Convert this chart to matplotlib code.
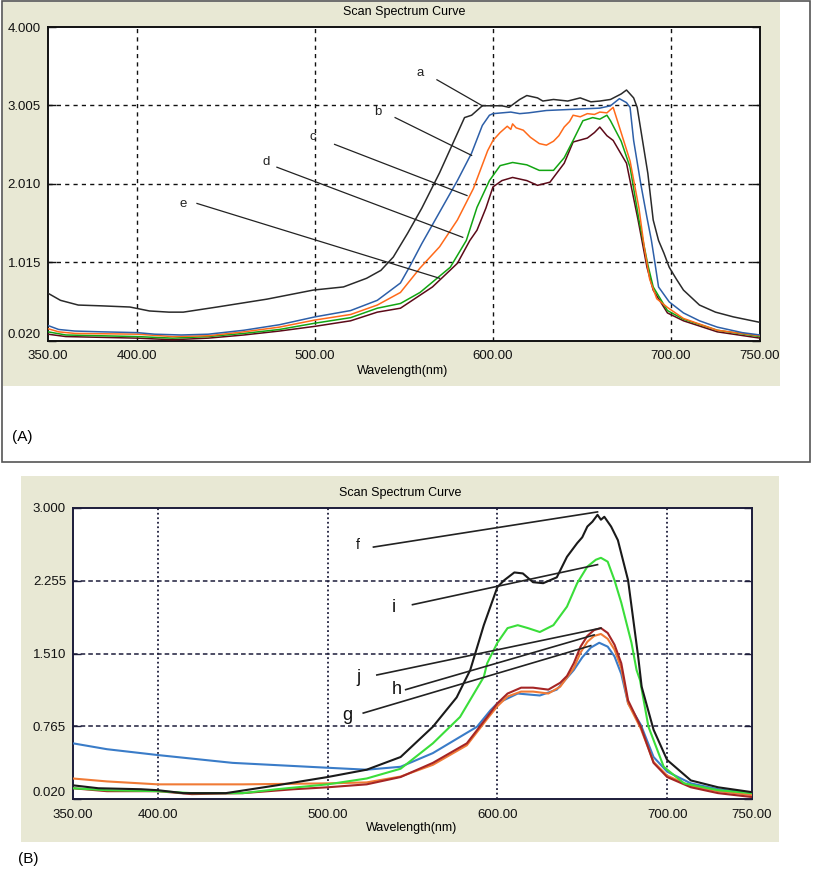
import matplotlib
matplotlib.use("Agg")
import matplotlib.pyplot as plt
from matplotlib.patches import Rectangle

plt.rcParams['font.family'] = ['Liberation Sans', 'DejaVu Sans']

# ---------------- panel A data ----------------
a_x = [350, 357, 367, 380, 396, 407, 418, 426, 445, 473, 499, 516, 529, 537, 544, 552, 560, 570, 578, 584,
       588, 591, 594, 600, 605, 609, 612, 615, 619, 625, 628, 634, 642, 649, 655, 660, 666, 672, 675, 679,
       681, 687, 690, 693, 696, 699, 703, 707, 716, 725, 735, 750]
a_y = [0.62, 0.53, 0.47, 0.46, 0.445, 0.395, 0.38, 0.38, 0.445, 0.545, 0.66, 0.70, 0.81, 0.91, 1.08, 1.38, 1.70, 2.15, 2.55, 2.85,
       2.88, 2.94, 3.00, 3.00, 3.00, 2.98, 3.03, 3.08, 3.13, 3.10, 3.06, 3.08, 3.06, 3.10, 3.05, 3.06, 3.08, 3.15, 3.20, 3.10,
       2.98, 2.14, 1.55, 1.29, 1.13, 0.95, 0.80, 0.66, 0.47, 0.38, 0.32, 0.25]

b_x = [350, 356, 365, 380, 400, 410, 425, 440, 460, 480, 500, 520, 535, 548, 553, 560, 570, 580, 588, 594,
       598, 600, 610, 615, 620, 630, 640, 650, 660, 666, 671, 675, 677, 679, 683, 686.5, 689, 691, 693, 699,
       707, 716, 726, 740, 750]
b_y = [0.21, 0.16, 0.14, 0.13, 0.12, 0.10, 0.09, 0.10, 0.15, 0.22, 0.32, 0.40, 0.53, 0.75, 0.95, 1.25, 1.65, 2.05, 2.40, 2.75,
       2.88, 2.90, 2.92, 2.90, 2.91, 2.94, 2.95, 2.96, 2.97, 3.00, 3.09, 3.04, 2.98, 2.56, 2.01, 1.58, 1.29, 1.00, 0.70, 0.51,
       0.37, 0.27, 0.19, 0.12, 0.09]

c_x = [350, 356, 365, 400, 420, 440, 460, 480, 500, 520, 535, 548, 559, 570, 580, 589, 594, 597, 600, 604,
       608, 610, 611, 613, 617, 621, 626, 630, 634, 637, 640, 643, 645, 649, 653, 657, 660, 664, 667.5, 671,
       677, 682, 685, 688, 692, 698, 707, 726, 750]
c_y = [0.17, 0.13, 0.11, 0.10, 0.07, 0.08, 0.13, 0.19, 0.28, 0.35, 0.47, 0.63, 0.94, 1.21, 1.55, 1.95, 2.25, 2.43, 2.56, 2.66,
       2.74, 2.70, 2.77, 2.72, 2.69, 2.60, 2.52, 2.50, 2.55, 2.62, 2.73, 2.80, 2.88, 2.86, 2.90, 2.89, 2.92, 2.91, 2.98, 2.73,
       2.30, 1.70, 1.20, 0.80, 0.55, 0.44, 0.30, 0.15, 0.08]

d_x = [350, 360, 400, 420, 440, 460, 480, 500, 520, 535, 548, 559, 576, 585, 591, 598, 604, 611, 619, 626,
       634, 640, 645, 650.5, 656, 660, 664, 666, 672, 677, 682, 687, 690, 698, 707, 726, 750]
d_y = [0.13, 0.09, 0.07, 0.05, 0.07, 0.11, 0.16, 0.24, 0.31, 0.43, 0.49, 0.63, 0.95, 1.29, 1.71, 2.05, 2.24, 2.28, 2.25, 2.18,
       2.18, 2.34, 2.56, 2.81, 2.85, 2.83, 2.88, 2.81, 2.55, 2.22, 1.55, 0.98, 0.70, 0.40, 0.29, 0.15, 0.07]

e_x = [350, 360, 400, 420, 440, 460, 480, 500, 520, 535, 548, 566, 580, 587, 591, 596, 600, 605, 611, 619,
       625, 632, 640, 645, 653, 657, 660, 664, 667.5, 675, 681.5, 686.5, 690, 698, 707, 726, 750]
e_y = [0.10, 0.07, 0.05, 0.03, 0.05, 0.09, 0.14, 0.20, 0.27, 0.38, 0.43, 0.70, 1.00, 1.29, 1.42, 1.70, 1.97, 2.05, 2.09, 2.05,
       1.99, 2.03, 2.27, 2.54, 2.59, 2.66, 2.73, 2.62, 2.56, 2.27, 1.55, 0.95, 0.66, 0.37, 0.27, 0.13, 0.05]

# ---------------- panel B data ----------------
f_x = [350, 365, 390, 400, 415, 440, 470, 500, 523, 543, 562, 576, 584, 592, 600, 604, 610, 615, 621, 627,
       635, 641, 647, 650, 653, 656, 659, 661, 663, 665, 667, 671, 677, 683, 685, 692, 700, 714, 730, 750]
f_y = [0.16, 0.13, 0.12, 0.11, 0.08, 0.08, 0.16, 0.245, 0.32, 0.45, 0.76, 1.06, 1.34, 1.80, 2.19, 2.26, 2.34, 2.33, 2.24, 2.23,
       2.29, 2.50, 2.64, 2.70, 2.81, 2.86, 2.93, 2.88, 2.91, 2.86, 2.81, 2.67, 2.26, 1.47, 1.17, 0.73, 0.42, 0.21, 0.14, 0.09]

i_x = [350, 370, 400, 420, 450, 470, 500, 523, 543, 562, 578, 592, 594, 600, 606, 612, 618, 625, 633, 641,
       647, 653, 658, 661, 665, 669, 673, 679, 682, 684, 689, 698, 710, 730, 750]
i_y = [0.13, 0.11, 0.10, 0.08, 0.08, 0.12, 0.17, 0.23, 0.33, 0.59, 0.86, 1.27, 1.41, 1.62, 1.77, 1.80, 1.77, 1.73, 1.80, 1.99,
       2.23, 2.40, 2.47, 2.49, 2.45, 2.26, 2.03, 1.62, 1.34, 1.24, 0.76, 0.35, 0.18, 0.11, 0.08]

j_x = [350, 370, 400, 420, 450, 480, 500, 523, 543, 562, 582, 594, 600, 606, 614, 621, 630, 637, 641, 645,
       649, 653, 657, 661, 665, 669, 673, 677, 684.5, 692, 700, 714, 730, 750]
j_y = [0.13, 0.10, 0.10, 0.07, 0.08, 0.12, 0.14, 0.17, 0.245, 0.39, 0.59, 0.86, 1.00, 1.10, 1.16, 1.16, 1.14, 1.21, 1.28, 1.41,
       1.58, 1.69, 1.75, 1.77, 1.72, 1.60, 1.41, 1.03, 0.76, 0.39, 0.245, 0.14, 0.08, 0.04]

h_x = [350, 370, 400, 450, 500, 523, 543, 562, 582, 594, 600, 606, 614, 621, 630, 637, 645, 649, 653, 657,
       661, 665, 669, 673, 677, 684.5, 692, 700, 714, 730, 750]
h_y = [0.23, 0.20, 0.17, 0.17, 0.18, 0.19, 0.25, 0.37, 0.57, 0.84, 0.97, 1.07, 1.12, 1.12, 1.10, 1.17, 1.36, 1.52, 1.63, 1.69,
       1.71, 1.66, 1.55, 1.36, 1.00, 0.74, 0.40, 0.26, 0.15, 0.10, 0.06]

g_x = [350, 370, 400, 444, 500, 523, 543, 562, 588, 596, 600, 612, 625, 635, 645, 650, 655, 660, 665, 669,
       673, 677, 684.5, 692, 700, 714, 730, 750]
g_y = [0.59, 0.53, 0.47, 0.39, 0.34, 0.32, 0.35, 0.49, 0.76, 0.93, 1.00, 1.10, 1.08, 1.14, 1.34, 1.47, 1.57, 1.62, 1.58, 1.48,
       1.30, 1.00, 0.78, 0.45, 0.30, 0.18, 0.12, 0.08]

xticks = [350, 400, 500, 600, 700, 750]
a_yticks = [0.020, 1.015, 2.010, 3.005, 4.000]
b_yticks = [0.020, 0.765, 1.510, 2.255, 3.000]

# label text position, leader line start, leader line end
a_labels = [("a", (559, 3.41), (568.5, 3.33), (594, 3.00)),
            ("b", (535.4, 2.92), (545, 2.85), (588, 2.37)),
            ("c", (499, 2.60), (511, 2.51), (585.4, 1.86)),
            ("d", (472.5, 2.29), (478.6, 2.22), (583, 1.33)),
            ("e", (426, 1.75), (433.7, 1.76), (570, 0.81))]
b_labels = [("f", (518, 2.62), (527, 2.60), (659, 2.96), 10),
            ("i", (538.8, 1.98), (550, 2.01), (659, 2.42), 13),
            ("j", (518, 1.26), (529, 1.29), (661, 1.77), 13),
            ("h", (541, 1.14), (546, 1.14), (657, 1.70), 13),
            ("g", (511.6, 0.88), (521, 0.90), (655, 1.59), 13)]

W, H = 813.0, 869.0
beige = '#e8e8d4'

fig = plt.figure(figsize=(8.13, 8.69), dpi=100)

# backgrounds / frame (behind the axes)
fig.patches.append(Rectangle((2 / W, 1 - 462 / H), 808 / W, 461 / H, transform=fig.transFigure,
                             facecolor='white', edgecolor='#555555', lw=1.2, zorder=-2))
fig.patches.append(Rectangle((3 / W, 1 - 386 / H), 777 / W, 384 / H, transform=fig.transFigure,
                             facecolor=beige, edgecolor='none', zorder=-1))
fig.patches.append(Rectangle((21 / W, 1 - 842 / H), 758 / W, 366 / H, transform=fig.transFigure,
                             facecolor=beige, edgecolor='none', zorder=-1))


def setup(ax, yticks, spine_col):
    ax.set_facecolor('white')
    ax.set_xlim(350, 750)
    ax.set_ylim(yticks[0], yticks[-1])
    ax.set_xticks(xticks)
    ax.set_xticklabels(["%.2f" % v for v in xticks])
    ax.set_yticks(yticks)
    ax.set_yticklabels(["%.3f" % v for v in yticks])
    ax.tick_params(axis='x', length=0, labelsize=9.5, pad=7, colors='#111111')
    ax.tick_params(axis='y', length=0, labelsize=9.5, pad=5, colors='#111111')
    # short solid marks where the grid meets the right frame
    ax.tick_params(axis='y', right=True, direction='in', length=6, width=1, color=spine_col)
    ax.get_yticklabels()[0].set_va('bottom')
    for s in ax.spines.values():
        s.set_color(spine_col)
        s.set_linewidth(1.4)


# ---------------- panel A ----------------
axA = fig.add_axes([48 / W, 1 - 340.5 / H, 712 / W, 313.5 / H])
setup(axA, a_yticks, '#111111')
for v in [400, 500, 600, 700]:
    axA.axvline(v, color='#111111', lw=1, ls=(0, (3, 3)), zorder=1)
for v in a_yticks[1:4]:
    axA.axhline(v, color='#111111', lw=1, ls=(0, (3, 3)), zorder=1)

axA.plot(e_x, e_y, color='#5c0a18', lw=1.1, zorder=3)
axA.plot(d_x, d_y, color='#12a512', lw=1.1, zorder=3)
axA.plot(c_x, c_y, color='#ff6a1a', lw=1.1, zorder=3)
axA.plot(b_x, b_y, color='#2d5fa8', lw=1.1, zorder=3)
axA.plot(a_x, a_y, color='#2a2a2a', lw=1.1, zorder=3)

for name, tp, p0, p1 in a_labels:
    axA.text(tp[0], tp[1], name, fontsize=9.5, ha='center', va='center', color='#222222')
    axA.plot([p0[0], p1[0]], [p0[1], p1[1]], color='#222222', lw=0.9, zorder=4)

fig.text(404 / W, 1 - 12 / H, "Scan Spectrum Curve", fontsize=9, ha='center', va='center')
fig.text(403 / W, 1 - 371 / H, "Wavelength(nm)", fontsize=9, ha='center', va='center')
fig.text(12 / W, 1 - 437 / H, "(A)", fontsize=11, ha='left', va='center')

# ---------------- panel B ----------------
axB = fig.add_axes([73 / W, 1 - 799 / H, 679 / W, 291 / H])
setup(axB, b_yticks, '#1c1c3a')
for v in [400, 500, 600, 700]:
    axB.axvline(v, color='#1c1c3a', lw=1.3, ls=(0, (1, 1.5)), zorder=1)
for v in b_yticks[1:4]:
    axB.axhline(v, color='#1c1c3a', lw=1.1, ls=(0, (3, 2)), zorder=1)

axB.plot(g_x, g_y, color='#3a7cc8', lw=1.5, zorder=3)
axB.plot(h_x, h_y, color='#f07a35', lw=1.5, zorder=3)
axB.plot(j_x, j_y, color='#a52525', lw=1.5, zorder=3)
axB.plot(i_x, i_y, color='#3ade3a', lw=1.5, zorder=3)
axB.plot(f_x, f_y, color='#1a1a1a', lw=1.5, zorder=3)

for name, tp, p0, p1, fs in b_labels:
    axB.text(tp[0], tp[1], name, fontsize=fs, ha='center', va='center', color='#111111')
    axB.plot([p0[0], p1[0]], [p0[1], p1[1]], color='#222222', lw=1.2, zorder=4)

fig.text(400 / W, 1 - 493 / H, "Scan Spectrum Curve", fontsize=9, ha='center', va='center')
fig.text(412 / W, 1 - 828 / H, "Wavelength(nm)", fontsize=9, ha='center', va='center')
fig.text(18 / W, 1 - 859 / H, "(B)", fontsize=11, ha='left', va='center')

plt.savefig("out.png", dpi=100)
